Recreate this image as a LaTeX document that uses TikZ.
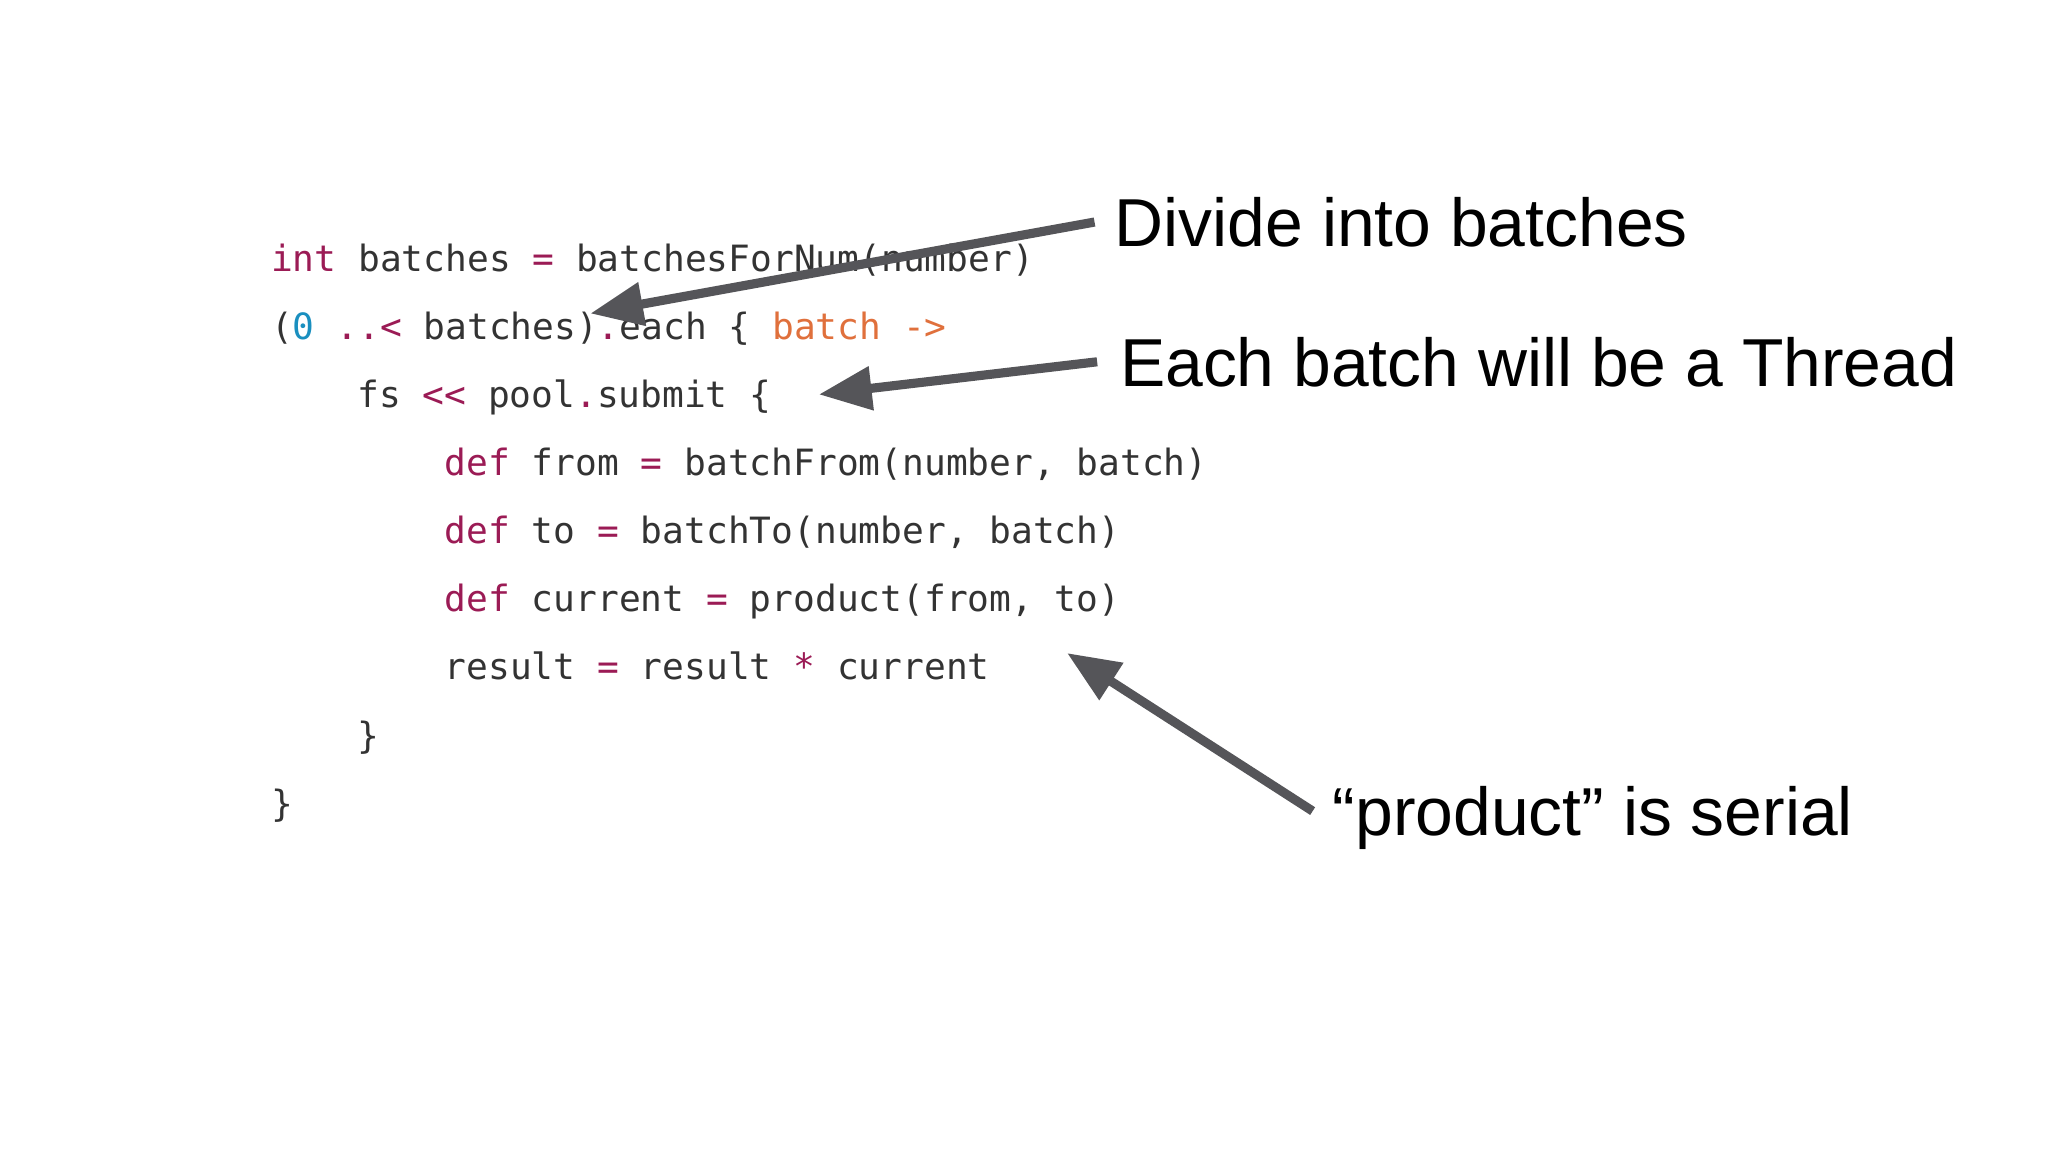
\documentclass[tikz,border=0pt]{standalone}
\usepackage{fontspec}
\setmainfont{Liberation Sans}
\setmonofont{DejaVu Sans Mono}
\usetikzlibrary{arrows.meta}
\definecolor{kw}{HTML}{9B1B55}
\definecolor{num}{HTML}{1A8FBF}
\definecolor{par}{HTML}{E0703C}
\definecolor{txt}{HTML}{333333}
\definecolor{arr}{HTML}{555559}
\newcommand{\K}[1]{\textcolor{kw}{#1}}
\tikzset{
 code/.style={anchor=base west, inner sep=0pt, font=\ttfamily\fontsize{10.3pt}{12pt}\selectfont, text=txt},
 lab/.style={anchor=base west, inner sep=0pt, font=\fontsize{19.3pt}{23pt}\selectfont, text=black},
 pointer/.style={draw=arr, line width=2.6pt, -{Triangle[length=15pt,width=12pt]}}
}
\begin{document}
\begin{tikzpicture}[x=0.013061cm,y=-0.013061cm]
\useasboundingbox (0,0) rectangle (1568,882);
\fill[white] (0,0) rectangle (1568,882);
\node[code] (l1) at (207,208) {\K{int} batches \K{=} batchesForNum(number)};
\node[code] (l2) at (207,260) {(\textcolor{num}{0} \K{..<} batches)\K{.}each \{ \textcolor{par}{batch ->}};
\node[code] (l3) at (273,312) {fs \K{<<} pool\K{.}submit \{};
\node[code] (l4) at (340,364) {\K{def} from \K{=} batchFrom(number, batch)};
\node[code] (l5) at (340,416) {\K{def} to \K{=} batchTo(number, batch)};
\node[code] (l6) at (340,468) {\K{def} current \K{=} product(from, to)};
\node[code] (l7) at (340,520) {result \K{=} result \K{*} current};
\node[code] (l8) at (273,573) {\}};
\node[code] (l9) at (207,625) {\}};
\node[lab] (t1) at (853,189) {Divide into batches};
\node[lab] (t2) at (857,296) {Each batch will be a Thread};
\node[lab] (t3) at (1020,640) {“product” is serial};
\coordinate (a1s) at (838,170); \coordinate (a1e) at (452,240);
\coordinate (a2s) at (840,277); \coordinate (a2e) at (627,302);
\coordinate (a3s) at (1005,621); \coordinate (a3e) at (817,500);
\draw[pointer] (a1s) -- (a1e);
\draw[pointer] (a2s) -- (a2e);
\draw[pointer] (a3s) -- (a3e);
\end{tikzpicture}
\end{document}
